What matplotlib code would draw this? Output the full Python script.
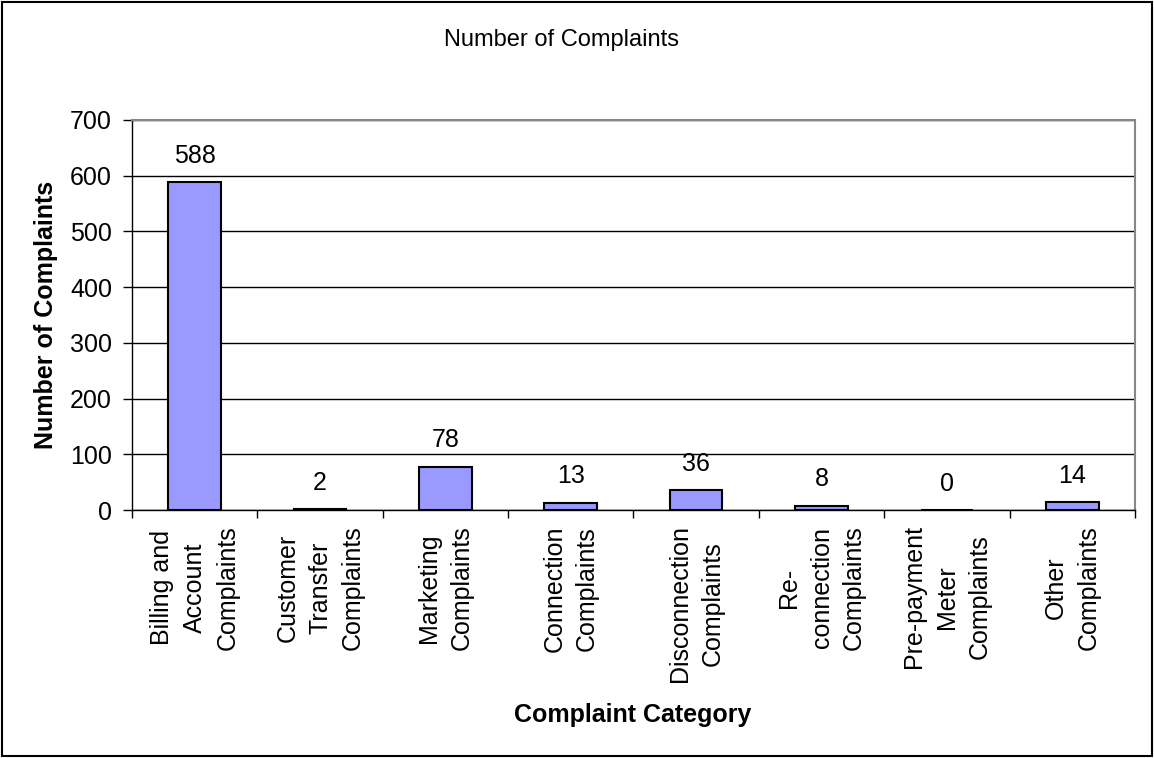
import matplotlib.pyplot as plt
from matplotlib.patches import Rectangle
import numpy as np

plt.rcParams["font.family"] = ["Liberation Sans", "DejaVu Sans"]

categories = [
    "Billing and\nAccount\nComplaints",
    "Customer\nTransfer\nComplaints",
    "Marketing\nComplaints",
    "Connection\nComplaints",
    "Disconnection\nComplaints",
    "Re-\nconnection\nComplaints",
    "Pre-payment\nMeter\nComplaints",
    "Other\nComplaints",
]
complaints = [588, 2, 78, 13, 36, 8, 0, 14]

fig = plt.figure(figsize=(11.54, 7.58), dpi=100)
ax = fig.add_axes([0.1144, 0.327, 0.8691, 0.5147])

x = np.arange(len(categories))
bars = ax.bar(x, complaints, width=0.42, color="#9999FF",
              edgecolor="black", linewidth=1.5, zorder=3)

# value labels above each bar
for xi, v in zip(x, complaints):
    ax.annotate(str(v), (xi, v), xytext=(0, 19), textcoords="offset points",
                ha="center", va="center", fontsize=18)

ax.set_xlim(-0.5, len(categories) - 0.5)
ax.set_ylim(0, 700)
ax.set_yticks(range(0, 701, 100))
ax.yaxis.grid(True, color="black", linewidth=1, zorder=0)
ax.set_axisbelow(True)

# tick marks at category boundaries, labels at centres
ax.set_xticks(np.arange(-0.5, len(categories), 1.0))
ax.set_xticklabels([])
ax.set_xticks(x, minor=True)
ax.set_xticklabels(categories, minor=True, rotation=90, ha="center",
                   va="top", multialignment="center", fontsize=18,
                   linespacing=1.45)
ax.tick_params(axis="x", which="major", length=6, width=1)
ax.tick_params(axis="x", which="minor", length=0, pad=11)
ax.tick_params(axis="y", length=6.5, width=1, labelsize=18, pad=8)

for s in ["top", "right"]:
    ax.spines[s].set_color("#888888")
    ax.spines[s].set_linewidth(1.5)
for s in ["left", "bottom"]:
    ax.spines[s].set_color("black")
    ax.spines[s].set_linewidth(1)

fig.text(0.487, 0.947, "Number of Complaints", ha="center", va="center",
         fontsize=17)
fig.text(0.040, 0.584, "Number of Complaints", ha="center", va="center",
         rotation=90, fontsize=18, fontweight="bold")
fig.text(0.548, 0.057, "Complaint Category", ha="center", va="center",
         fontsize=18, fontweight="bold")

fig.patches.append(Rectangle((0.002, 0.003), 0.996, 0.994,
                             transform=fig.transFigure, fill=False,
                             edgecolor="black", linewidth=1.5))

fig.savefig("out.png", dpi=100)
